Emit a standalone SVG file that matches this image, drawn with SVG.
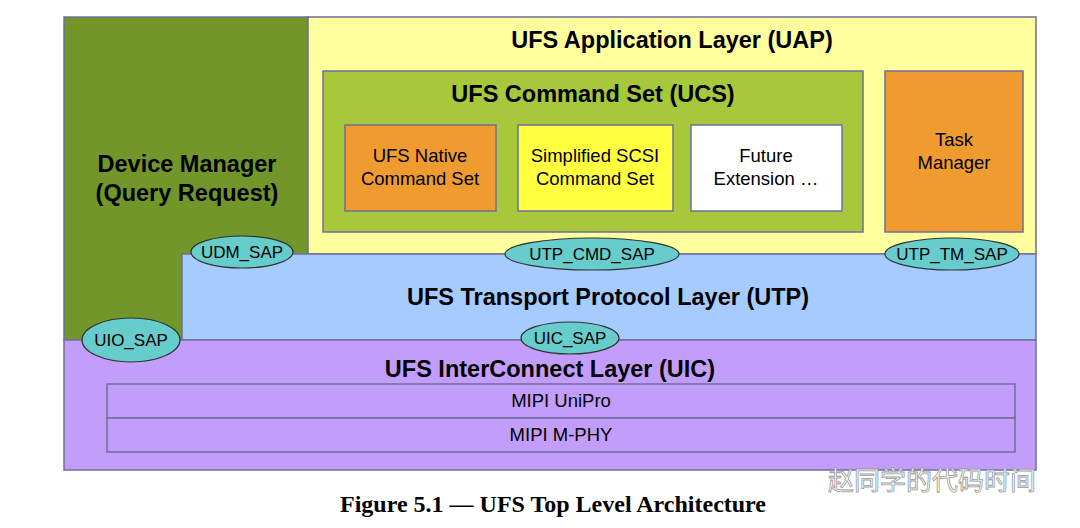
<svg xmlns="http://www.w3.org/2000/svg" width="1080" height="528" viewBox="0 0 1080 528">
<style>
.b{stroke:#6f6f9a;stroke-width:1.5}
.t{font-family:"Liberation Sans",Arial,sans-serif;font-size:18.5px;fill:#000;text-anchor:middle}
.h{font-family:"Liberation Sans",Arial,sans-serif;font-size:23.5px;font-weight:bold;fill:#000;text-anchor:middle}
.e{fill:#66cccc;stroke:#333;stroke-width:1.2}
.s{font-family:"Liberation Sans",Arial,sans-serif;font-size:17px;fill:#000;text-anchor:middle}
</style>
<rect width="1080" height="528" fill="#fff"/>
<g id="dm"><rect class="b" x="64" y="17" width="244" height="323" fill="#72962a"/>
<text class="h" x="187" y="172">Device Manager</text><text class="h" x="187" y="201">(Query Request)</text></g>
<g id="uap"><rect class="b" x="308" y="17" width="728" height="237" fill="#ffff9e"/>
<text class="h" x="672" y="48">UFS Application Layer (UAP)</text></g>
<g id="ucs"><rect class="b" x="323" y="71" width="540" height="161" fill="#a6c83a"/>
<text class="h" x="593" y="102">UFS Command Set (UCS)</text></g>
<g id="native"><rect class="b" x="345" y="125" width="151" height="86" fill="#f09b2f"/>
<text class="t" x="420" y="162">UFS Native</text><text class="t" x="420" y="185">Command Set</text></g>
<g id="scsi"><rect class="b" x="518" y="125" width="155" height="86" fill="#ffff40"/>
<text class="t" x="595" y="162">Simplified SCSI</text><text class="t" x="595" y="185">Command Set</text></g>
<g id="future"><rect class="b" x="691" y="125" width="151" height="86" fill="#fff"/>
<text class="t" x="766" y="162">Future</text><text class="t" x="766" y="185">Extension …</text></g>
<g id="tm"><rect class="b" x="885" y="71" width="138" height="161" fill="#f09b2f"/>
<text class="t" x="954" y="146">Task</text><text class="t" x="954" y="169">Manager</text></g>
<g id="utp"><rect class="b" x="182" y="254" width="854" height="86" fill="#a6cbff"/>
<text class="h" x="608" y="305">UFS Transport  Protocol Layer (UTP)</text></g>
<g id="uic"><rect class="b" x="64" y="340" width="972" height="130" fill="#c39dfb"/>
<text class="h" x="550" y="377">UFS InterConnect Layer (UIC)</text></g>
<g id="unipro"><rect class="b" x="107" y="384" width="908" height="34" fill="#c39dfb"/>
<text class="t" x="561" y="407">MIPI UniPro</text></g>
<g id="mphy"><rect class="b" x="107" y="418" width="908" height="34" fill="#c39dfb"/>
<text class="t" x="561" y="441">MIPI M-PHY</text></g>
<g id="connectors">
<g id="udm"><ellipse class="e" cx="242" cy="252" rx="51" ry="16"/><text class="s" x="242" y="258">UDM_SAP</text></g>
<g id="cmd"><ellipse class="e" cx="592" cy="254" rx="87" ry="16"/><text class="s" x="592" y="260">UTP_CMD_SAP</text></g>
<g id="tmsap"><ellipse class="e" cx="952" cy="254" rx="67" ry="16"/><text class="s" x="952" y="260">UTP_TM_SAP</text></g>
<g id="uio"><ellipse class="e" cx="131" cy="340" rx="49" ry="22"/><text class="s" x="131" y="346">UIO_SAP</text></g>
<g id="uicsap"><ellipse class="e" cx="570" cy="338" rx="49" ry="16"/><text class="s" x="570" y="344">UIC_SAP</text></g>
</g>
<text x="553" y="512" style="font-family:'Liberation Serif',serif;font-size:24px;font-weight:bold;text-anchor:middle">Figure 5.1 — UFS Top Level Architecture</text>
<text x="828" y="490" style="font-family:'Noto Sans CJK SC',sans-serif;font-size:26px;fill:#fff;stroke:#999;stroke-width:0.8">赵同学的代码时间</text>
</svg>
